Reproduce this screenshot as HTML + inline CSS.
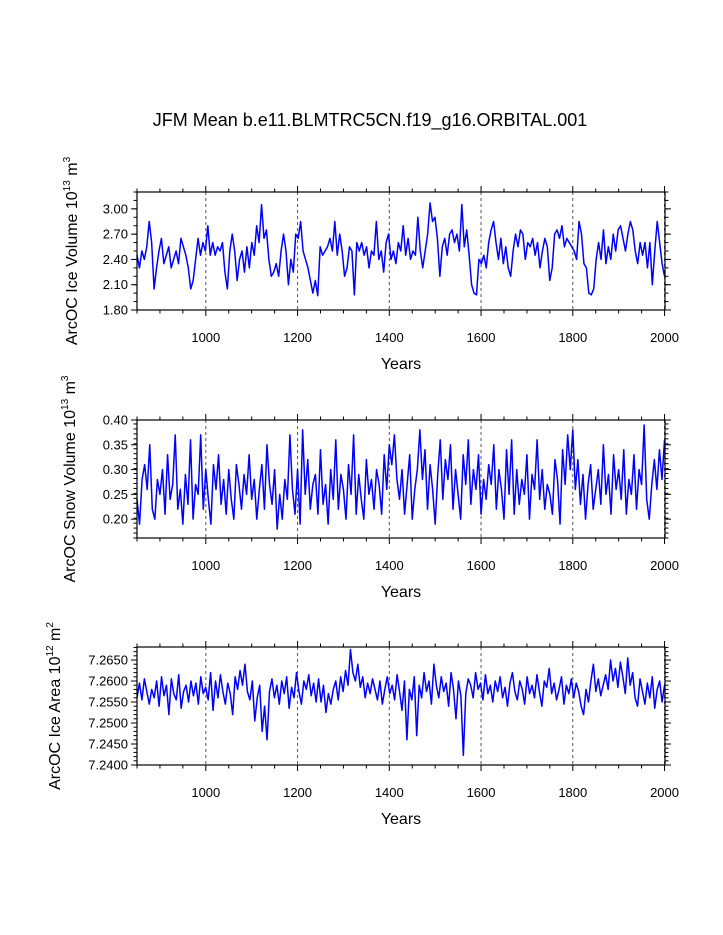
<!DOCTYPE html>
<html><head><meta charset="utf-8"><style>
body{margin:0;background:#fff;}
svg{display:block;font-family:"Liberation Sans",Arial,sans-serif;}
</style></head><body>
<svg id="chart" width="723" height="935" viewBox="0 0 723 935" xmlns="http://www.w3.org/2000/svg">
<rect width="723" height="935" fill="#fff"/>
<text x="370" y="126" font-size="18" text-anchor="middle">JFM Mean b.e11.BLMTRC5CN.f19_g16.ORBITAL.001</text>
</svg>
<script>
const startYear = 850;
const endYear = 2001;
const xTicks = [1000,1200,1400,1600,1800,2000];
const iceVolume = [2.45,2.3,2.5,2.4,2.55,2.85,2.6,2.05,2.3,2.5,2.65,2.35,2.45,2.55,2.3,2.4,2.5,2.35,2.65,2.55,2.45,2.3,2.05,2.15,2.4,2.65,2.45,2.6,2.5,2.8,2.45,2.6,2.45,2.55,2.5,2.6,2.25,2.05,2.5,2.7,2.5,2.15,2.4,2.5,2.25,2.55,2.3,2.6,2.45,2.8,2.6,3.05,2.65,2.75,2.4,2.2,2.25,2.35,2.2,2.5,2.7,2.5,2.1,2.4,2.25,2.7,2.65,2.85,2.5,2.4,2.3,2.15,2.0,2.15,1.97,2.55,2.45,2.5,2.55,2.65,2.5,2.85,2.45,2.7,2.5,2.2,2.3,2.55,2.5,1.98,2.6,2.5,2.6,2.45,2.55,2.3,2.5,2.45,2.85,2.4,2.5,2.25,2.6,2.7,2.4,2.5,2.35,2.6,2.5,2.8,2.45,2.65,2.4,2.5,2.45,2.9,2.5,2.3,2.5,2.7,3.07,2.85,2.9,2.65,2.2,2.55,2.65,2.45,2.7,2.75,2.6,2.7,2.5,3.05,2.55,2.75,2.45,2.1,2.0,1.98,2.4,2.35,2.45,2.3,2.6,2.75,2.85,2.6,2.4,2.65,2.35,2.55,2.3,2.2,2.5,2.7,2.55,2.75,2.7,2.4,2.6,2.55,2.65,2.45,2.6,2.3,2.5,2.65,2.55,2.15,2.3,2.7,2.75,2.65,2.8,2.55,2.65,2.6,2.55,2.5,2.4,2.85,2.7,2.35,2.3,2.0,1.98,2.05,2.4,2.6,2.4,2.75,2.35,2.55,2.4,2.7,2.5,2.75,2.8,2.65,2.5,2.7,2.85,2.75,2.5,2.35,2.6,2.45,2.6,2.3,2.6,2.1,2.5,2.85,2.6,2.35,2.2];
const snowVolume = [0.24,0.19,0.28,0.31,0.26,0.35,0.22,0.2,0.28,0.25,0.3,0.21,0.33,0.24,0.27,0.37,0.22,0.26,0.19,0.29,0.23,0.36,0.2,0.27,0.25,0.37,0.22,0.3,0.24,0.19,0.31,0.26,0.33,0.23,0.28,0.21,0.3,0.24,0.2,0.31,0.27,0.22,0.29,0.25,0.33,0.24,0.28,0.2,0.26,0.31,0.22,0.35,0.27,0.23,0.3,0.18,0.25,0.2,0.28,0.24,0.37,0.26,0.21,0.3,0.19,0.38,0.25,0.32,0.22,0.27,0.29,0.21,0.34,0.23,0.27,0.19,0.3,0.24,0.36,0.22,0.29,0.26,0.2,0.31,0.25,0.37,0.21,0.29,0.24,0.2,0.32,0.25,0.28,0.22,0.3,0.27,0.21,0.33,0.26,0.35,0.31,0.37,0.28,0.24,0.3,0.21,0.27,0.33,0.2,0.26,0.3,0.38,0.28,0.34,0.22,0.31,0.26,0.19,0.29,0.36,0.24,0.32,0.28,0.35,0.22,0.3,0.25,0.2,0.33,0.27,0.36,0.23,0.3,0.26,0.33,0.21,0.28,0.24,0.31,0.27,0.35,0.22,0.3,0.26,0.2,0.34,0.25,0.36,0.21,0.3,0.23,0.28,0.25,0.33,0.2,0.29,0.26,0.36,0.24,0.3,0.22,0.27,0.25,0.21,0.32,0.28,0.19,0.34,0.27,0.37,0.3,0.38,0.26,0.32,0.23,0.29,0.2,0.27,0.31,0.22,0.26,0.3,0.23,0.35,0.25,0.29,0.21,0.33,0.26,0.3,0.24,0.34,0.21,0.28,0.25,0.33,0.22,0.3,0.27,0.39,0.24,0.2,0.27,0.32,0.26,0.34,0.28,0.36];
const iceArea = [7.2560,7.2595,7.2555,7.2605,7.2575,7.2545,7.2580,7.2560,7.2600,7.2540,7.2610,7.2565,7.2590,7.2520,7.2605,7.2570,7.2555,7.2615,7.2535,7.2575,7.2590,7.2550,7.2600,7.2565,7.2595,7.2545,7.2610,7.2570,7.2585,7.2555,7.2620,7.2530,7.2600,7.2560,7.2615,7.2575,7.2545,7.2595,7.2570,7.2520,7.2610,7.2580,7.2625,7.2590,7.2640,7.2575,7.2555,7.2600,7.2505,7.2560,7.2590,7.2480,7.2540,7.2460,7.2575,7.2605,7.2560,7.2590,7.2545,7.2600,7.2570,7.2610,7.2535,7.2585,7.2560,7.2620,7.2575,7.2545,7.2600,7.2580,7.2615,7.2565,7.2595,7.2550,7.2605,7.2550,7.2590,7.2525,7.2570,7.2545,7.2580,7.2600,7.2555,7.2610,7.2575,7.2625,7.2590,7.2675,7.2620,7.2600,7.2640,7.2585,7.2610,7.2560,7.2595,7.2570,7.2605,7.2580,7.2555,7.2600,7.2545,7.2580,7.2610,7.2570,7.2590,7.2555,7.2615,7.2575,7.2530,7.2600,7.2460,7.2580,7.2555,7.2610,7.2470,7.2590,7.2560,7.2620,7.2575,7.2600,7.2545,7.2640,7.2590,7.2560,7.2610,7.2575,7.2595,7.2540,7.2620,7.2580,7.2510,7.2600,7.2565,7.2423,7.2570,7.2605,7.2590,7.2560,7.2620,7.2580,7.2595,7.2555,7.2615,7.2570,7.2590,7.2550,7.2600,7.2575,7.2610,7.2560,7.2585,7.2540,7.2595,7.2620,7.2575,7.2555,7.2600,7.2580,7.2545,7.2610,7.2570,7.2590,7.2560,7.2615,7.2575,7.2540,7.2600,7.2585,7.2630,7.2570,7.2595,7.2555,7.2580,7.2610,7.2545,7.2590,7.2570,7.2605,7.2560,7.2595,7.2575,7.2540,7.2520,7.2580,7.2550,7.2600,7.2640,7.2575,7.2605,7.2565,7.2590,7.2615,7.2580,7.2650,7.2600,7.2630,7.2585,7.2645,7.2610,7.2570,7.2655,7.2590,7.2620,7.2560,7.2540,7.2605,7.2575,7.2545,7.2595,7.2560,7.2610,7.2535,7.2580,7.2600,7.2550,7.2590];
const iceVolTicks = ["1.80","2.10","2.40","2.70","3.00"];
const snowTicks = ["0.20","0.25","0.30","0.35","0.40"];
const areaTicks = ["7.2400","7.2450","7.2500","7.2550","7.2600","7.2650"];

const NS = "http://www.w3.org/2000/svg";
const svg = document.getElementById('chart');
function mk(tag, attrs, parent){const e=document.createElementNS(NS,tag);for(const k in attrs)e.setAttribute(k,attrs[k]);(parent||svg).appendChild(e);return e;}

const X0=137, X1=665;
const xScale = y => X0 + (y-startYear)/(endYear-startYear)*(X1-X0);

function panel(name, top, bottom, ymin, ymax, yticks, minorStep, data, label, sup1, sup2, labelX){
  const g = mk('g',{});
  
  
  const ys = v => bottom - (v-ymin)/(ymax-ymin)*(bottom-top);
  xTicks.forEach(t=>{
    const l=mk('line',{x1:xScale(t),x2:xScale(t),y1:top,y2:bottom,stroke:'#555','stroke-width':1,'stroke-dasharray':'3,3'},g);
    
    
  });
  let d='';
  data.forEach((v,i)=>{const yr=startYear+i*(endYear-1-startYear)/(data.length-1);d+=(i?'L':'M')+xScale(yr).toFixed(2)+','+ys(v).toFixed(2);});
  const p=mk('path',{d:d,fill:'none',stroke:'#0000ff','stroke-width':1.5,'stroke-linejoin':'round'},g);
  
  
  const f=mk('rect',{x:X0,y:top,width:X1-X0,height:bottom-top,fill:'none',stroke:'#000','stroke-width':1.2},g);
  
  
  for(let yr=850; yr<=2000; yr+=50){
    const x=xScale(yr); const maj = yr%200===0; const len=maj?6:3.5;
    mk('line',{x1:x,x2:x,y1:top,y2:top-len,stroke:'#000','stroke-width':1},g);
    mk('line',{x1:x,x2:x,y1:bottom,y2:bottom+len,stroke:'#000','stroke-width':1},g);
  }
  xTicks.forEach(t=>{
    const tx=mk('text',{x:xScale(t),y:bottom+32,'font-size':13,'text-anchor':'middle'},g);
    tx.textContent=t;
    
    
  });
  const xt=mk('text',{x:401,y:bottom+59,'font-size':16,'text-anchor':'middle'},g);
  xt.textContent='Years';
  
  
  for(let v=ymin; v<=ymax+1e-9; v+=minorStep){
    const y=ys(v);
    mk('line',{x1:X0,x2:X0-3.5,y1:y,y2:y,stroke:'#000','stroke-width':1},g);
    mk('line',{x1:X1,x2:X1+3.5,y1:y,y2:y,stroke:'#000','stroke-width':1},g);
  }
  yticks.forEach(t=>{
    const y=ys(parseFloat(t));
    mk('line',{x1:X0,x2:X0-6,y1:y,y2:y,stroke:'#000','stroke-width':1},g);
    mk('line',{x1:X1,x2:X1+6,y1:y,y2:y,stroke:'#000','stroke-width':1},g);
    const tx=mk('text',{x:X0-9,y:y+4.5,'font-size':13,'text-anchor':'end'},g);
    tx.textContent=t;
    
    
  });
  const cy=(top+bottom)/2;
  const yl=mk('text',{x:0,y:0,'font-size':16,'text-anchor':'middle',transform:`translate(${labelX},${cy}) rotate(-90)`},g);
  
  
  yl.innerHTML = label+' 10<tspan font-size="10" dy="-7">'+sup1+'</tspan><tspan dy="7"> m</tspan><tspan font-size="10" dy="-7">'+sup2+'</tspan>';
}
panel('ice-volume',192,310,1.80,3.20,iceVolTicks,0.1,iceVolume,'ArcOC Ice Volume','13','3',77);
panel('snow-volume',420,538,0.162,0.40,snowTicks,0.01,snowVolume,'ArcOC Snow Volume','13','3',75);
panel('ice-area',647,765,7.2400,7.2681,areaTicks,0.001,iceArea,'ArcOC Ice Area','12','2',60);
</script>
</body></html>
